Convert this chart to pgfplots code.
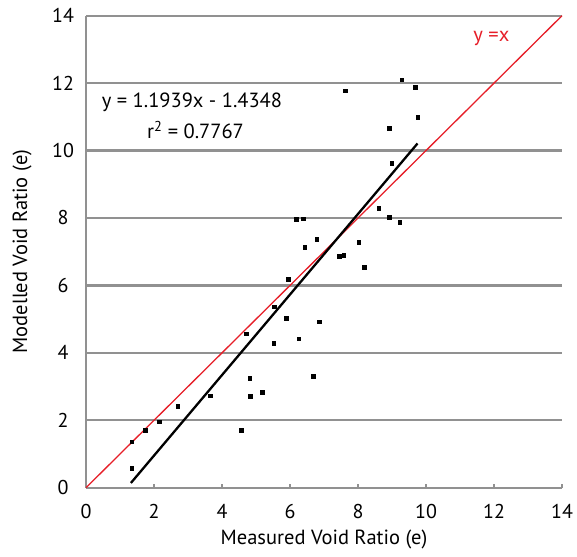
\documentclass[border=0pt]{standalone}
\usepackage{pgfplots}
\pgfplotsset{compat=1.18}
\usepackage{fontspec}
\setmainfont{PT Sans}
\definecolor{gridgray}{RGB}{145,145,145}
\definecolor{fitred}{RGB}{230,30,40}
\begin{document}
\begin{tikzpicture}
\begin{axis}[
  scale only axis,
  width=476pt, height=472pt,
  xmin=0, xmax=14, ymin=0, ymax=14,
  xtick={0,2,...,14}, ytick={0,2,...,14},
  axis x line*=bottom, axis y line*=left,
  axis line style={gridgray, line width=2.3pt},
  ymajorgrids, major grid style={gridgray, line width=2.3pt},
  major tick length=4pt,
  xtick style={gridgray, line width=1.2pt},
  ytick style={draw=none},
  tick align=inside,
  /pgf/number format/assume math mode=true,
  ticklabel style={font=\fontsize{20}{23}\selectfont},
  xticklabel style={anchor=center, yshift=-24pt},
  yticklabel style={anchor=center, xshift=-23pt},
  label style={font=\fontsize{20.5}{24}\selectfont},
  xlabel={Measured Void Ratio (e)},
  ylabel={Modelled Void Ratio (e)},
  xlabel style={at={(axis description cs:0.5,-0.110)}, anchor=center},
  ylabel style={at={(axis description cs:-0.1345,0.5)}, anchor=center},
  clip=false,
]
\path (axis description cs:-0.1807,-0.1462) rectangle (axis description cs:1.0315,1.0333);
\addplot[fitred, line width=1.3pt] coordinates {(0,0) (14,14)};
\addplot[black, line width=2.3pt] coordinates {(1.32,0.14) (9.75,10.21)};
\addplot[only marks, mark=square*, mark size=1.8pt, black] coordinates {
(1.34,0.57) (1.34,1.36) (1.74,1.70) (2.15,1.96) (2.70,2.41) (3.65,2.73)
(4.57,1.70) (4.71,4.57) (4.82,3.24) (4.83,2.72) (5.18,2.83) (5.52,4.29)
(5.53,5.37) (5.88,5.03) (5.94,6.19) (6.26,4.42) (6.43,7.13) (6.69,3.31)
(6.86,4.92) (6.78,7.37) (6.18,7.97) (6.38,7.98)
(7.62,11.77) (9.28,12.10) (9.68,11.88) (9.75,10.99) (8.92,10.67) (8.99,9.63)
(8.61,8.29) (8.91,8.02) (9.23,7.88) (8.02,7.29) (7.45,6.87) (7.58,6.89) (8.18,6.54)
};
\node[anchor=west, font=\fontsize{20.5}{24}\selectfont, inner sep=0pt] at (axis cs:0.46,11.44) {y = 1.1939x - 1.4348};
\node[anchor=west, font=\fontsize{20.5}{24}\selectfont, inner sep=0pt] at (axis cs:1.79,10.61) {r\textsuperscript{2} = 0.7767};
\node[anchor=west, font=\fontsize{20.5}{24}\selectfont, inner sep=0pt, text=fitred] at (axis cs:11.39,13.33) {y =x};
\end{axis}
\end{tikzpicture}
\end{document}
